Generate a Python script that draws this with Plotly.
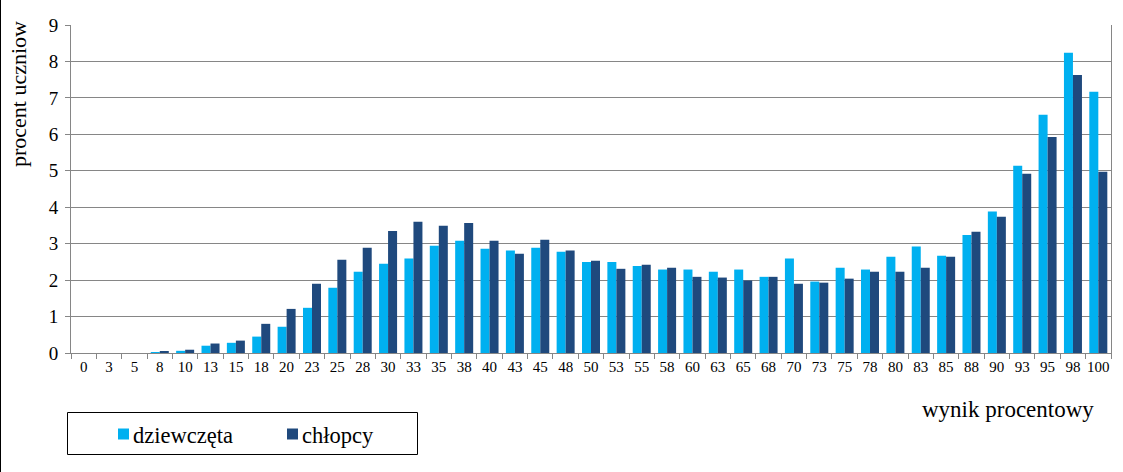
import plotly.graph_objects as go

categories = ["0", "3", "5", "8", "10", "13", "15", "18", "20", "23", "25", "28", "30", "33", "35",
              "38", "40", "43", "45", "48", "50", "53", "55", "58", "60", "63", "65", "68", "70",
              "73", "75", "78", "80", "83", "85", "88", "90", "93", "95", "98", "100"]

dziewczeta = [0, 0, 0, 0.01, 0.06, 0.20, 0.28, 0.45, 0.72, 1.24, 1.79, 2.23, 2.45, 2.59, 2.94,
              3.08, 2.86, 2.81, 2.89, 2.78, 2.50, 2.50, 2.39, 2.29, 2.29, 2.23, 2.29, 2.09, 2.59,
              1.96, 2.34, 2.29, 2.64, 2.92, 2.67, 3.24, 3.88, 5.14, 6.54, 8.24, 7.17]

chlopcy = [0, 0, 0, 0.04, 0.09, 0.26, 0.34, 0.80, 1.21, 1.90, 2.56, 2.89, 3.35, 3.60, 3.49,
           3.57, 3.08, 2.72, 3.11, 2.81, 2.53, 2.31, 2.42, 2.34, 2.09, 2.07, 1.99, 2.09, 1.90,
           1.93, 2.04, 2.23, 2.23, 2.34, 2.64, 3.33, 3.74, 4.92, 5.93, 7.63, 4.97]

y_ticks = [0, 1, 2, 3, 4, 5, 6, 7, 8, 9]

series_names = ["dziewczęta", "chłopcy"]
series_colors = ["#00B0F0", "#1F497D"]

FONT = "Liberation Serif, Times New Roman, serif"
GRID = "#868686"

L, R, T, B = 71, 12, 25, 119
W, H = 1123, 472
pw = W - L - R
ph = H - T - B


def px_x(p):
    return (p - L) / pw


def px_y(p):
    return (T + ph - p) / ph


fig = go.Figure()
for name, vals, col in zip(series_names, [dziewczeta, chlopcy], series_colors):
    fig.add_trace(go.Bar(x=categories, y=vals, name=name, marker_color=col,
                         marker_line_width=0, showlegend=False))

shapes = [
    # outer chart border (left edge visible)
    dict(type="line", xref="paper", yref="paper",
         x0=px_x(0.5), x1=px_x(0.5), y0=px_y(H), y1=px_y(0),
         line=dict(color="black", width=1)),
    # legend box
    dict(type="rect", xref="paper", yref="paper",
         x0=px_x(67.5), x1=px_x(417.5), y0=px_y(454.5), y1=px_y(412.5),
         line=dict(color="black", width=1), fillcolor="white"),
]
annotations = [
    dict(text="procent uczniow", textangle=-90, xref="paper", yref="paper",
         x=px_x(19), y=px_y(94), xanchor="center", yanchor="middle",
         showarrow=False, font=dict(family=FONT, size=22, color="black")),
    dict(text="wynik procentowy", xref="paper", yref="paper",
         x=px_x(1096), y=px_y(409), xanchor="right", yanchor="middle",
         showarrow=False, font=dict(family=FONT, size=23, color="black")),
]
legend_sq_x = [118, 287]
legend_tx_x = [133, 302]
for name, col, sx, tx in zip(series_names, series_colors, legend_sq_x, legend_tx_x):
    shapes.append(dict(type="rect", xref="paper", yref="paper",
                       x0=px_x(sx), x1=px_x(sx + 11), y0=px_y(439.5), y1=px_y(428.5),
                       line=dict(width=0), fillcolor=col))
    annotations.append(dict(text=name, xref="paper", yref="paper",
                            x=px_x(tx), y=px_y(435), xanchor="left", yanchor="middle",
                            showarrow=False, xshift=-2,
                            font=dict(family=FONT, size=22.5, color="black")))

fig.update_layout(
    width=W, height=H,
    margin=dict(l=L, r=R, t=T, b=B, pad=0, autoexpand=False),
    paper_bgcolor="white", plot_bgcolor="white",
    barmode="group", bargap=0.29, bargroupgap=0,
    font=dict(family=FONT, color="black"),
    showlegend=False,
    xaxis=dict(type="category", showline=True, linecolor=GRID, linewidth=1,
               ticks="outside", tickson="boundaries", ticklen=5, tickcolor=GRID,
               tickangle=0, automargin=False,
               tickfont=dict(family=FONT, size=15, color="black"),
               showgrid=False, fixedrange=True),
    yaxis=dict(range=[0, 9], tickvals=y_ticks, showline=True, mirror=True,
               linecolor=GRID, linewidth=1, ticks="outside", ticklen=5, tickcolor=GRID,
               showgrid=True, gridcolor=GRID, gridwidth=1, zeroline=False,
               automargin=False,
               tickfont=dict(family=FONT, size=19, color="black"),
               ticklabelstandoff=3, fixedrange=True),
    shapes=shapes,
    annotations=annotations,
)

fig.write_html("out.html")
